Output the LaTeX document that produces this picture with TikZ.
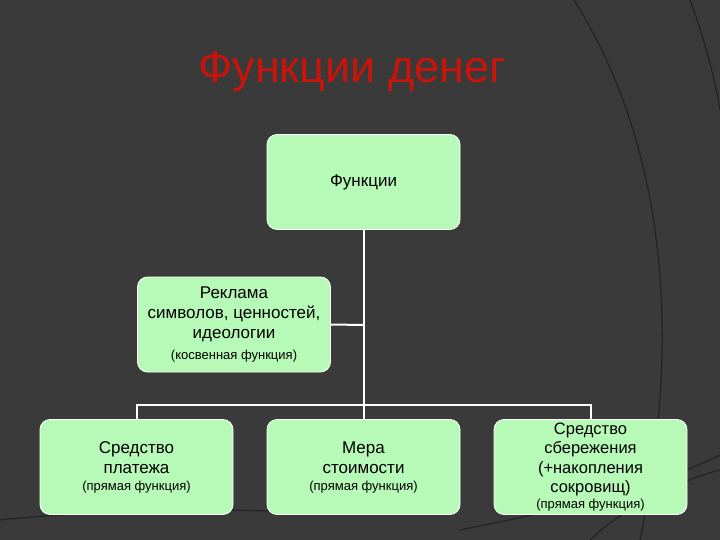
\documentclass[tikz,border=0pt]{standalone}
\usepackage{fontspec}
\setmainfont{Liberation Sans}
\begin{document}
\begin{tikzpicture}[x=1pt,y=-1pt,
  box/.style={draw=white,line width=0.8pt,fill=boxgreen,rounded corners=10pt,minimum width=193pt,minimum height=95pt,align=center,inner sep=1pt,font=\fontsize{17}{20}\selectfont},
  conn/.style={draw=white,line width=2pt}]
\definecolor{boxgreen}{RGB}{183,250,183}
\definecolor{bg}{RGB}{58,58,58}
\definecolor{arcc}{RGB}{35,35,35}
\definecolor{titlered}{RGB}{200,20,10}
\useasboundingbox (0,0) rectangle (720,540);
\fill[bg] (0,0) rectangle (720,540);
\draw[arcc,line width=1.2pt] (574,0) .. controls (650,120) and (690,300) .. (640,540);
\draw[arcc,line width=1.2pt] (690,0) .. controls (705,40) and (715,80) .. (720,110);
\draw[arcc,line width=1.2pt] (460,530) .. controls (560,510) and (650,490) .. (720,455);
\draw[arcc,line width=1.2pt] (0,520) .. controls (100,510) and (200,508) .. (300,512);
\draw[arcc,line width=1.2pt] (590,540) .. controls (620,510) and (680,480) .. (720,470);
\node[text=titlered,font=\fontsize{45}{50}\selectfont] (t) at (352,72) {Функции денег};
\node[box] (top) at (363.5,182) {Функции};
\node[box] (adv) at (234,324.5) {Реклама\\символов, ценностей,\\идеологии\\[1pt]{\fontsize{13}{15}\selectfont (косвенная функция)}};
\node[box] (b1) at (136.5,467) {Средство\\платежа\\[-3pt]{\fontsize{13}{15}\selectfont (прямая функция)}};
\node[box] (b2) at (363.5,467) {Мера\\стоимости\\[-3pt]{\fontsize{13}{15}\selectfont (прямая функция)}};
\node[box,font=\fontsize{16.5}{19.5}\selectfont] (b3) at (590.5,467) {Средство\\сбережения\\(+накопления\\сокровищ)\\[-4pt]{\fontsize{13}{15}\selectfont (прямая функция)}};
\coordinate (j) at (363.5,405);
\coordinate (ja) at (363.5,325);
\draw[conn] (top.south) -- (j);
\draw[conn] (adv.east) -- (ja);
\draw[conn] (b1.north) -- (b1.north |- j) -- (b3.north |- j) -- (b3.north);
\draw[conn] (j) -- (b2.north);
\end{tikzpicture}
\end{document}
